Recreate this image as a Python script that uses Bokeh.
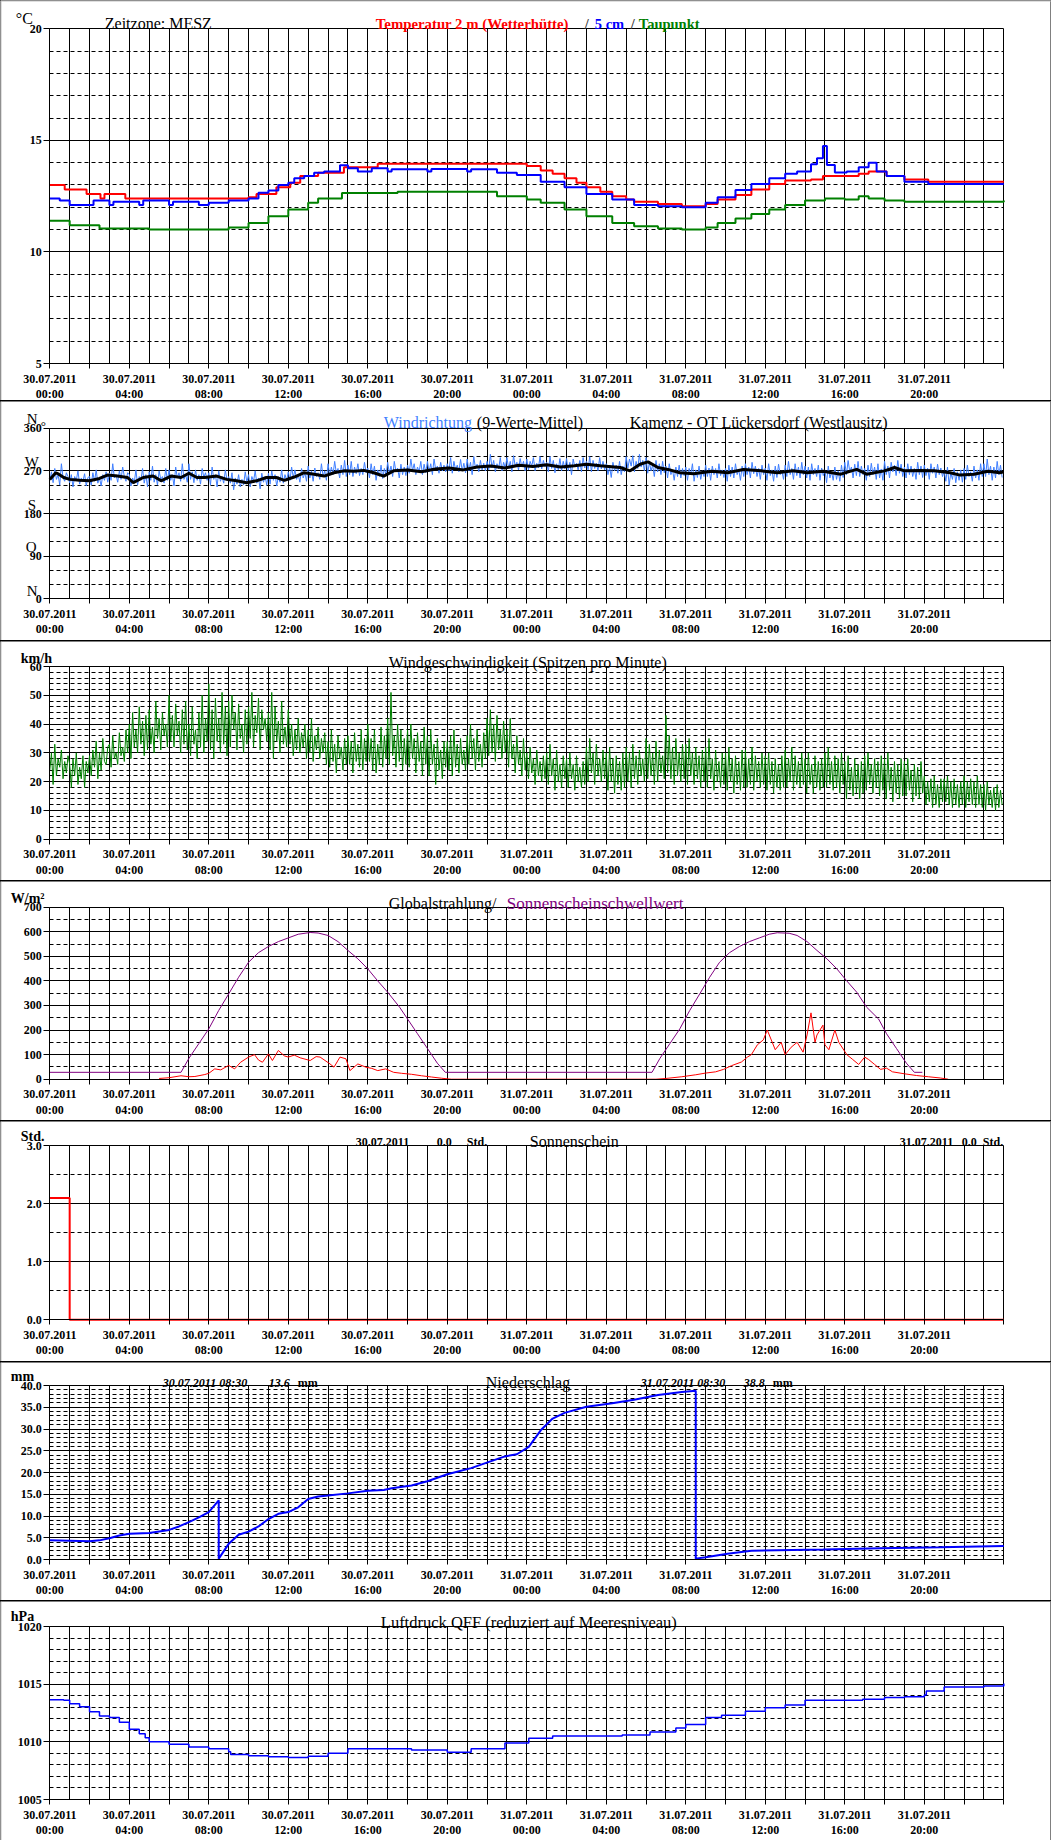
import numpy as np
from bokeh.plotting import figure
from bokeh.models import FixedTicker, Label, Range1d, Grid, Span
from bokeh.layouts import column
from bokeh.embed import file_html
from bokeh.resources import INLINE

# ---------------- data ----------------
# Temperatures (hours since 30.07.2011 00:00)
t2m_t = [0, 0.75, 1.85, 2.55, 2.75, 3.8, 10.0, 10.4, 11.4, 12.1, 12.6, 13.5, 14.8, 16.5, 24.0, 24.7, 25.3, 25.9, 26.5, 27.0, 27.7, 28.3, 29.0, 29.4, 30.6, 31.8, 33.0, 33.6, 34.5, 35.3, 36.2, 37.0, 38.3, 38.9, 40.7, 41.2, 42.1, 43.0, 44.2, 48.0]
t2m_v = [13.0, 12.8, 12.6, 12.4, 12.6, 12.4, 12.45, 12.6, 12.9, 13.1, 13.4, 13.55, 13.8, 13.95, 13.85, 13.65, 13.5, 13.3, 13.1, 12.9, 12.7, 12.5, 12.35, 12.25, 12.15, 12.05, 12.15, 12.35, 12.55, 12.8, 13.05, 13.2, 13.25, 13.4, 13.5, 13.6, 13.4, 13.25, 13.15, 13.15]
t5_t = [0, 0.5, 1.0, 2.0, 2.2, 3.0, 3.2, 4.5, 4.7, 6.0, 6.2, 7.5, 8.0, 9.0, 10.0, 10.5, 11.0, 11.5, 12.0, 12.3, 12.8, 13.3, 13.8, 14.3, 14.6, 15.0, 15.5, 16.0, 16.2, 17.0, 17.2, 19.0, 19.2, 21.0, 21.2, 22.5, 23.5, 24.7, 25.9, 27.0, 28.3, 29.4, 30.6, 31.8, 33.0, 33.6, 34.5, 35.3, 36.2, 37.0, 37.6, 38.3, 38.6, 38.9, 39.1, 39.5, 40.1, 40.7, 41.2, 41.6, 42.1, 43.0, 44.2, 48.0]
t5_v = [12.4, 12.3, 12.1, 12.1, 12.3, 12.1, 12.25, 12.1, 12.3, 12.1, 12.25, 12.1, 12.2, 12.3, 12.4, 12.65, 12.75, 13.0, 13.1, 13.3, 13.4, 13.55, 13.6, 13.6, 13.88, 13.75, 13.6, 13.6, 13.75, 13.6, 13.7, 13.6, 13.72, 13.6, 13.7, 13.55, 13.45, 13.15, 12.9, 12.6, 12.35, 12.1, 12.05, 12.0, 12.2, 12.45, 12.78, 13.04, 13.3, 13.5, 13.6, 13.93, 14.2, 14.75, 13.9, 13.56, 13.6, 13.8, 14.0, 13.6, 13.4, 13.15, 13.04, 13.04]
td_t = [0, 1.0, 2.5, 5.0, 9.0, 10.0, 11.0, 12.0, 13.0, 13.5, 14.7, 17.5, 22.5, 24.0, 24.7, 25.9, 27.0, 28.3, 29.4, 30.6, 31.8, 33.0, 33.6, 34.5, 35.3, 36.2, 37.0, 38.0, 39.0, 40.0, 40.7, 41.2, 42.0, 43.0, 48.0]
td_v = [11.4, 11.2, 11.05, 11.0, 11.1, 11.3, 11.6, 11.9, 12.2, 12.4, 12.64, 12.7, 12.5, 12.35, 12.2, 11.9, 11.6, 11.3, 11.15, 11.05, 11.0, 11.1, 11.3, 11.5, 11.7, 11.9, 12.1, 12.3, 12.4, 12.35, 12.5, 12.4, 12.3, 12.25, 12.3]

# Wind direction, raw values every 5 minutes (degrees)
wd_raw = [
    250,268,245,275,252,262,240,285,255,248,266,258, 245,262,236,258,250,270,242,255,248,264,238,256,
    258,240,266,248,272,244,255,238,262,250,268,246, 265,250,285,255,262,246,270,252,278,258,248,266,
    262,238,255,246,272,240,258,250,275,244,262,236, 268,250,280,246,262,240,270,252,258,244,275,250,
    272,250,262,238,278,255,266,248,285,252,262,246, 285,252,268,245,272,250,262,242,275,256,266,250,
    266,240,278,252,262,236,270,248,258,244,272,250, 258,244,266,230,255,242,262,236,252,240,268,246,
    262,236,258,248,270,244,255,232,265,246,258,240, 265,242,270,250,262,238,258,246,272,244,262,250,
    268,250,278,256,272,252,262,246,275,255,266,248, 280,255,270,248,276,258,266,252,285,258,270,250,
    285,260,278,262,290,265,275,255,282,262,292,258, 282,262,290,258,278,264,285,260,275,262,288,266,
    276,255,285,262,280,250,272,258,282,254,275,262, 288,265,280,258,290,268,276,255,284,262,278,260,
    282,265,295,270,285,262,278,268,290,262,284,266, 290,268,285,262,295,272,280,265,288,270,282,268,
    285,270,298,265,290,272,282,268,294,270,286,266, 295,270,288,262,300,275,284,268,292,272,286,270,
    290,272,305,276,292,268,285,274,298,270,288,276, 298,275,290,268,302,280,288,272,296,278,290,270,
    295,272,290,280,298,270,286,276,300,274,292,278, 288,268,300,275,292,266,285,272,296,270,290,274,
    296,270,288,262,295,278,286,272,292,268,298,276, 290,272,300,268,292,275,286,270,298,274,290,272,
    285,262,278,256,288,270,282,265,290,262,280,268, 300,276,295,280,302,268,290,275,305,278,292,270,
    298,265,288,270,282,258,292,268,285,262,290,266, 280,255,285,262,272,250,278,258,282,255,275,260,
    278,250,275,262,285,248,272,256,280,252,270,258, 282,258,276,250,280,262,275,255,285,260,272,256,
    275,248,282,258,278,255,285,262,272,250,280,258, 285,262,278,255,288,264,280,258,275,252,282,262,
    276,250,285,260,272,248,280,256,284,262,270,252, 282,258,290,262,275,252,285,260,278,255,288,262,
    280,255,278,250,285,262,275,258,282,250,276,260, 272,245,280,255,268,250,278,252,270,248,282,256,
    288,262,292,268,278,255,284,260,290,258,280,262, 275,250,282,258,286,262,278,252,285,255,274,250,
    290,262,280,255,288,268,282,260,292,265,284,258, 278,255,285,262,280,258,275,252,288,262,280,256,
    282,260,276,252,285,265,278,255,284,262,276,258, 270,248,278,240,266,252,275,245,268,250,272,246,
    275,252,282,258,268,248,280,255,272,250,285,258, 285,258,295,262,280,250,278,255,290,262,282,256]
# Wind direction, 9-value mean
wdm_t = [0,0.3,0.45,0.7,1.0,1.5,2.0,2.5,2.9,3.4,3.9,4.2,4.7,5.2,5.6,6.1,6.6,7.0,7.4,7.8,8.4,8.9,9.4,9.9,10.4,10.9,11.4,11.8,12.3,12.8,13.3,13.8,14.3,14.8,15.3,15.8,16.3,16.8,17.3,18.0,18.7,19.4,20.1,20.8,21.5,22.2,22.9,23.6,24.3,25.0,25.7,26.4,27.0,27.7,28.7,29.2,29.7,30.1,30.6,31.1,31.7,32.4,33.3,34.1,34.9,35.8,36.6,37.4,38.1,38.9,39.8,40.6,41.1,42.0,42.5,43.0,43.8,44.5,45.3,45.8,46.5,47.2,47.8,48]
wdm_v = [252,266,263,256,252,250,249,254,261,259,256,245,256,259,249,259,256,265,256,256,259,252,249,245,249,256,256,250,257,266,263,259,266,270,269,271,266,259,270,272,268,274,276,272,278,280,276,282,279,283,278,281,284,281,277,270,284,289,277,273,266,264,269,266,273,270,266,270,266,269,263,273,263,270,277,270,271,270,266,261,263,269,266,268]

# Wind speed peaks every 5 minutes (km/h)
ws = [
    24,30,19,33,22,28,25,31,21,27,23,29, 26,18,28,22,30,19,25,21,29,18,27,23,
    29,22,31,25,34,21,30,24,35,27,26,32, 33,25,36,28,30,26,37,29,32,27,38,30,
    40,28,44,32,38,30,46,33,41,29,43,31, 45,33,39,30,48,35,42,31,44,36,40,32,
    50,34,43,32,47,36,41,30,45,33,48,31, 40,29,46,33,38,28,44,32,50,30,42,34,
    54,31,45,28,49,34,42,30,51,33,46,29, 48,32,50,38,44,31,47,35,40,30,45,33,
    46,35,51,32,43,37,49,31,45,38,42,34, 44,31,51,28,46,34,41,30,48,33,39,32,
    45,33,40,29,38,31,42,30,37,32,40,28, 38,30,42,27,36,31,39,28,35,30,37,26,
    34,25,38,27,33,23,36,28,32,24,35,26, 36,26,34,23,37,27,33,25,38,24,35,27,
    40,27,35,24,38,23,33,26,39,25,36,28, 42,26,51,29,36,25,40,27,38,24,35,26,
    38,25,40,28,35,23,37,27,34,22,39,26, 36,22,38,26,33,19,35,24,31,21,34,25,
    34,24,36,22,38,25,33,23,35,26,31,24, 36,26,40,28,35,24,38,27,33,25,37,28,
    42,29,45,30,40,27,43,31,38,28,41,30, 38,25,42,28,33,23,36,26,31,22,35,24,
    30,21,32,23,28,19,31,22,27,20,29,21, 30,19,33,22,28,17,31,20,26,18,29,21,
    28,18,30,21,26,17,29,20,25,18,27,19, 32,20,35,23,30,19,33,22,28,20,31,21,
    30,17,32,20,28,16,29,19,27,17,30,18, 32,20,30,18,33,21,29,19,31,22,28,20,
    35,21,33,22,30,19,34,20,31,23,29,21, 43,23,36,21,32,19,35,22,30,20,33,21,
    33,19,35,22,30,19,32,21,29,18,31,20, 32,18,35,21,28,17,31,20,27,18,30,19,
    30,17,32,20,28,16,29,19,27,17,31,18, 31,18,28,19,32,17,29,20,27,18,30,19,
    29,17,30,19,27,16,28,18,26,17,29,18, 31,18,28,20,32,17,29,19,27,18,30,19,
    28,16,30,19,26,16,29,18,27,17,28,18, 30,18,32,19,27,17,29,18,28,16,30,19,
    27,14,29,17,25,15,28,16,26,14,27,16, 29,17,30,19,26,16,28,18,27,15,29,17,
    28,14,30,17,25,13,27,16,26,14,28,15, 27,15,28,17,24,13,26,15,25,14,27,16,
    22,12,20,13,21,11,22,12,19,11,21,13, 21,13,22,12,20,11,21,12,19,11,20,12,
    22,11,20,13,21,12,20,11,22,12,19,11, 19,10,20,12,17,11,18,10,19,11,17,12]

# Global radiation (W/m2)
gr_t = [5.5, 6.0, 6.6, 7.0, 7.3, 7.8, 8.0, 8.3, 8.6, 9.0, 9.3, 9.6, 10.0, 10.3, 10.5, 10.7, 11.0, 11.2, 11.5, 11.8, 12.0, 12.3, 12.6, 13.1, 13.4, 13.6, 14.1, 14.3, 14.6, 14.9, 15.1, 15.5, 15.9, 16.2, 16.5, 16.9, 17.3, 17.7, 18.2, 18.7, 19.2, 19.7, 20.2,
        30.5, 31.0, 31.8, 32.5, 33.0, 33.5, 33.9, 34.3, 34.8, 35.1, 35.3, 35.6, 35.9, 36.1, 36.5, 36.8, 37.0, 37.3, 37.6, 37.9, 38.1, 38.3, 38.5, 38.6, 38.9, 39.0, 39.2, 39.5, 39.7, 40.1, 40.4, 40.7, 41.0, 41.2, 41.5, 41.8, 42.1, 42.4, 43.0, 43.6, 44.2, 44.8, 45.2]
gr_v = [3, 6, 14, 10, 11, 19, 24, 42, 38, 56, 42, 69, 90, 100, 78, 69, 103, 76, 117, 95, 90, 98, 87, 76, 92, 90, 62, 49, 90, 83, 35, 62, 49, 44, 35, 42, 28, 24, 20, 14, 9, 4, 0,
        0, 3, 10, 18, 25, 30, 40, 55, 70, 90, 100, 140, 160, 200, 120, 150, 100, 130, 150, 110, 180, 270, 150, 180, 220, 140, 120, 200, 150, 100, 80, 60, 90, 80, 60, 40, 45, 30, 22, 15, 10, 5, 0]
# Sunshine threshold (W/m2)
sw_t = [0, 6.6, 7.0, 7.5, 8.0, 8.5, 9.0, 9.5, 10.0, 10.5, 11.0, 11.5, 12.0, 12.5, 13.1, 13.5, 14.0, 14.5, 15.0, 15.5, 16.0, 16.5, 17.0, 17.6, 18.0, 18.5, 19.0, 19.5, 19.9,
        30.3, 30.7, 31.2, 31.7, 32.2, 32.7, 33.2, 33.7, 34.2, 34.7, 35.2, 35.7, 36.2, 36.6, 37.2, 37.6, 38.1, 38.6, 39.1, 39.6, 40.1, 40.6, 41.1, 41.7, 42.1, 42.6, 43.1, 43.5, 43.9, 48.0]
sw_v = [28, 28, 85, 145, 205, 280, 347, 415, 476, 515, 540, 560, 575, 590, 597, 595, 585, 560, 524, 490, 449, 400, 354, 293, 245, 185, 125, 65, 28,
        28, 85, 145, 205, 280, 347, 415, 476, 515, 540, 560, 575, 590, 596, 594, 585, 560, 524, 490, 449, 400, 354, 293, 245, 185, 125, 65, 28, 28]

# Sunshine duration (h)
sun_t = [0, 1.0, 48.0]
sun_v = [2.1, 0.0, 0.0]

# Precipitation (mm, since 08:30)
pr_t = [0, 2.0, 2.5, 3.0, 3.5, 4.0, 5.0, 6.0, 6.5, 7.0, 7.5, 8.0, 8.5, 8.5, 9.0, 9.5, 10.0, 10.5, 11.0, 11.5, 12.0, 12.5, 13.0, 13.5, 14.0, 15.0, 16.0, 16.8, 17.2, 18.2, 19.0, 20.0, 21.2, 21.7, 22.9, 23.5, 24.1, 24.7, 25.3, 25.9, 27.0, 28.3, 29.4, 30.6, 31.8, 32.5, 32.5, 33.0, 34.1, 35.3, 38.9, 41.8, 44.8, 48.0]
pr_v = [4.4, 4.2, 4.4, 4.9, 5.5, 5.9, 6.1, 6.8, 7.6, 8.6, 9.7, 10.9, 13.6, 0.2, 3.6, 5.7, 6.4, 7.6, 9.3, 10.5, 10.9, 12.0, 13.9, 14.5, 14.7, 15.2, 15.8, 16.0, 16.4, 17.0, 18.0, 19.6, 21.0, 21.8, 23.7, 24.2, 25.9, 29.7, 32.4, 33.7, 35.1, 35.9, 36.7, 37.8, 38.5, 38.8, 0.2, 0.5, 1.3, 2.0, 2.3, 2.6, 2.8, 3.1]

# Pressure QFF (hPa)
ps_t = [0, 0.7, 1.0, 1.5, 2.0, 2.5, 3.0, 3.5, 4.0, 4.5, 4.8, 5.0, 6.0, 7.0, 8.0, 9.0, 9.1, 10.0, 11.0, 12.0, 13.0, 14.0, 15.0, 16.0, 17.2, 18.2, 20.0, 21.2, 22.9, 24.1, 25.3, 27.0, 28.8, 30.2, 31.5, 32.0, 33.0, 33.8, 35.0, 36.0, 37.0, 38.0, 39.0, 40.0, 40.9, 42.0, 43.0, 44.0, 44.1, 45.0, 46.0, 47.0, 48.0]
ps_v = [1013.65, 1013.6, 1013.3, 1013.05, 1012.6, 1012.25, 1012.1, 1011.7, 1011.1, 1010.7, 1010.35, 1010.0, 1009.8, 1009.55, 1009.4, 1009.15, 1008.9, 1008.8, 1008.7, 1008.65, 1008.75, 1009.0, 1009.4, 1009.4, 1009.4, 1009.3, 1009.1, 1009.4, 1009.9, 1010.3, 1010.5, 1010.5, 1010.6, 1010.85, 1011.2, 1011.5, 1012.1, 1012.3, 1012.65, 1012.95, 1013.2, 1013.6, 1013.6, 1013.6, 1013.7, 1013.85, 1013.9, 1014.05, 1014.4, 1014.75, 1014.75, 1014.85, 1015.05]

x_ticks = list(range(0, 49, 2))
x_labels = {}
for h in x_ticks:
    if h % 4 == 0 and h < 48:
        day = "30.07.2011" if h < 24 else "31.07.2011"
        x_labels[h] = "%s\n%02d:00" % (day, h % 24)
    else:
        x_labels[h] = ""

# ---------------- drawing ----------------
SERIF = "Liberation Serif"
W = 1051
LEFT = 49.3         # px from figure edge to the 00:00 line
PXH = 954 / 48.0    # px per hour
HAS_CB = "cross_bounds" in Grid.properties()


def panel(h, top, bottom, y0, y1, majors, minors, ylab=None, first=False):
    fh = h - top - bottom
    upp = (y1 - y0) / fh
    p = figure(width=W, height=h,
               x_range=Range1d(-LEFT / PXH, (W - LEFT) / PXH),
               y_range=Range1d(y0 - bottom * upp, y1 + top * upp),
               output_backend="svg", toolbar_location=None,
               min_border=0, min_border_left=0, min_border_right=0,
               min_border_top=0, min_border_bottom=0)
    p.outline_line_color = None
    p.background_fill_color = "white"
    p.border_fill_color = "white"
    for ax in (p.xaxis[0], p.yaxis[0]):
        ax.axis_line_color = "black"
        ax.major_tick_line_color = "black"
        ax.minor_tick_line_color = None
        ax.major_tick_in = 0
        ax.major_label_text_font = SERIF
        ax.major_label_text_font_style = "bold"
        ax.major_label_text_font_size = "12px"
        ax.major_label_text_color = "black"
    xa = p.xaxis[0]
    xa.fixed_location = y0
    xa.bounds = (0, 48)
    xa.ticker = FixedTicker(ticks=x_ticks)
    xa.major_label_overrides = x_labels
    xa.major_tick_out = 5
    xa.major_label_standoff = 3
    xa.major_label_text_line_height = 1.1
    ya = p.yaxis[0]
    ya.fixed_location = 0
    ya.bounds = (y0, y1)
    ya.ticker = FixedTicker(ticks=majors, minor_ticks=minors)
    ya.major_tick_out = 6
    ya.major_label_standoff = 2
    if ylab:
        ya.major_label_overrides = ylab
    p.xgrid.ticker = FixedTicker(ticks=list(range(49)))
    p.xgrid.grid_line_color = "black"
    p.ygrid.ticker = FixedTicker(ticks=majors, minor_ticks=minors)
    p.ygrid.grid_line_color = "black"
    p.ygrid.minor_grid_line_color = "black"
    p.ygrid.minor_grid_line_dash = "4 3"
    if HAS_CB:
        p.xgrid.cross_bounds = (y0, y1)
        p.ygrid.cross_bounds = (0, 48)
        p.xgrid.bounds = (0, 48)
        p.ygrid.bounds = (y0, y1)
    else:
        p.xgrid.visible = False
        p.ygrid.visible = False
        hx = list(range(49))
        p.segment(hx, [y0] * 49, hx, [y1] * 49, line_color="black", level="underlay")
        p.segment([0] * len(majors), majors, [48] * len(majors), majors, line_color="black", level="underlay")
        p.segment([0] * len(minors), minors, [48] * len(minors), minors, line_color="black",
                  line_dash="4 3", level="underlay")
    # page frame: grey left edge, black right edge (and grey top edge on the first panel)
    p.add_layout(Span(location=(0.5 - LEFT) / PXH, dimension="height", line_color="#c0c0c0", line_width=1))
    p.add_layout(Span(location=(1050.5 - LEFT) / PXH, dimension="height", line_color="black", line_width=1))
    if first:
        p.add_layout(Span(location=y1 + (top - 0.5) * upp, dimension="width", line_color="#c0c0c0", line_width=1))
    return p


def lab(p, text, xo, ytop, yo, size, color="black", style="normal", align="left", font=SERIF):
    p.add_layout(Label(x=0, y=ytop, x_offset=xo, y_offset=yo, text=text, text_font=font,
                       text_font_size="%gpx" % size, text_color=color, text_font_style=style,
                       text_align=align, text_baseline="alphabetic"))


# Panel 1: temperature
p1 = panel(400, 28.3, 37, 5, 20, [5, 10, 15, 20], [v for v in range(5, 21) if v % 5], first=True)
p1.step(t2m_t, t2m_v, mode="after", line_color="red", line_width=2)
p1.step(t5_t, t5_v, mode="after", line_color="blue", line_width=2)
p1.step(td_t, td_v, mode="after", line_color="green", line_width=2)
lab(p1, "°C", -34, 20, 10, 16)
lab(p1, "Zeitzone: MESZ", 55, 20, 5, 16)
lab(p1, "Temperatur 2 m (Wetterhütte)", 326, 20, 5, 14.8, "red", "bold")
lab(p1, "/", 535, 20, 5, 14.5, "#404040", "bold")
lab(p1, "5 cm", 545, 20, 5, 14.5, "blue", "bold")
lab(p1, "/", 581, 20, 5, 14.5, "#404040", "bold")
lab(p1, "Taupunkt", 589, 20, 5, 14.5, "green", "bold")

# Panel 2: wind direction
p2 = panel(239, 26.7, 41.7, 0, 360, [0, 90, 180, 270, 360], [30, 60, 120, 150, 210, 240, 300, 330],
           {0: "0", 90: "90", 180: "180", 270: "270", 360: "360"})
wd_t = np.arange(len(wd_raw)) / 12.0
p2.line(wd_t, wd_raw, line_color="#3f7fff", line_width=1)
p2.line(wdm_t, wdm_v, line_color="black", line_width=3)
lab(p2, "N", -23, 360, 9, 15)
lab(p2, "°", -9, 360, 3, 13)
lab(p2, "W", -25, 270, 9, 15)
lab(p2, "S", -22, 180, 9, 15)
lab(p2, "O", -24, 90, 9, 15)
lab(p2, "N", -23, 0, 8, 15)
lab(p2, "Windrichtung", 334, 360, 6, 16, "#3f7fff")
lab(p2, "(9-Werte-Mittel)", 427, 360, 6, 16)
lab(p2, "Kamenz - OT Lückersdorf (Westlausitz)", 580, 360, 6, 16)

# Panel 3: wind speed
p3 = panel(239, 25, 41.3, 0, 60, [0, 10, 20, 30, 40, 50, 60], [v for v in range(0, 61, 2) if v % 10])
ws_t = np.arange(len(ws)) / 12.0
p3.line(ws_t, ws, line_color="green", line_width=1)
lab(p3, "km/h", -29, 60, 8, 14, style="bold")
lab(p3, "Windgeschwindigkeit (Spitzen pro Minute)", 339, 60, 4, 16)

# Panel 4: global radiation
p4 = panel(239, 25.7, 41.3, 0, 700, list(range(0, 701, 100)), list(range(50, 700, 100)))
p4.line(sw_t, sw_v, line_color="purple", line_width=1)
p4.line(gr_t, gr_v, line_color="red", line_width=1)
lab(p4, "W/m²", -39, 700, 9, 14, style="bold")
lab(p4, "Globalstrahlung/", 339, 700, 4, 16)
lab(p4, "Sonnenscheinschwellwert", 457, 700, 4, 17, "purple")

# Panel 5: sunshine
p5 = panel(240, 24.3, 41.7, 0, 3, [0, 1, 2, 3], [0.5, 1.5, 2.5], {0: "0.0", 1: "1.0", 2: "2.0", 3: "3.0"})
p5.step(sun_t, sun_v, mode="after", line_color="red", line_width=2)
lab(p5, "Std.", -29, 3, 9, 14, style="bold")
lab(p5, "30.07.2011", 306, 3, 4, 12, style="bold")
lab(p5, "0.0", 387, 3, 4, 12, style="bold")
lab(p5, "Std.", 417, 3, 4, 12, style="bold")
lab(p5, "Sonnenschein", 480, 3, 4, 16)
lab(p5, "31.07.2011", 850, 3, 4, 12, style="bold")
lab(p5, "0.0", 912, 3, 4, 12, style="bold")
lab(p5, "Std.", 933, 3, 4, 12, style="bold")

# Panel 6: precipitation
p6 = panel(238, 23, 41, 0, 40, list(range(0, 41, 5)), [v for v in range(0, 41) if v % 5],
           {v: "%.1f" % v for v in range(0, 41, 5)})
p6.line(pr_t, pr_v, line_color="blue", line_width=2)
lab(p6, "mm", -39, 40, 9, 14, style="bold")
lab(p6, "30.07.2011 08:30", 113, 40, 3, 12, style="bold italic")
lab(p6, "13.6", 219, 40, 3, 12, style="bold italic")
lab(p6, "mm", 248, 40, 3, 12, style="bold")
lab(p6, "Niederschlag", 436, 40, 3, 16)
lab(p6, "31.07.2011 08:30", 591, 40, 3, 12, style="bold italic")
lab(p6, "38.8", 694, 40, 3, 12, style="bold italic")
lab(p6, "mm", 723, 40, 3, 12, style="bold")

# Panel 7: pressure
p7 = panel(239, 25, 41, 1005, 1020, [1005, 1010, 1015, 1020], [v for v in range(1005, 1021) if v % 5])
p7.step(ps_t, ps_v, mode="after", line_color="blue", line_width=1.5)
lab(p7, "hPa", -39, 1020, 10, 14, style="bold")
lab(p7, "Luftdruck QFF (reduziert auf Meeresniveau)", 331, 1020, 4, 16.5)

page = column(p1, p2, p3, p4, p5, p6, p7, spacing=1, styles={"background-color": "black"})
open("out.html", "w").write(file_html(page, INLINE))
